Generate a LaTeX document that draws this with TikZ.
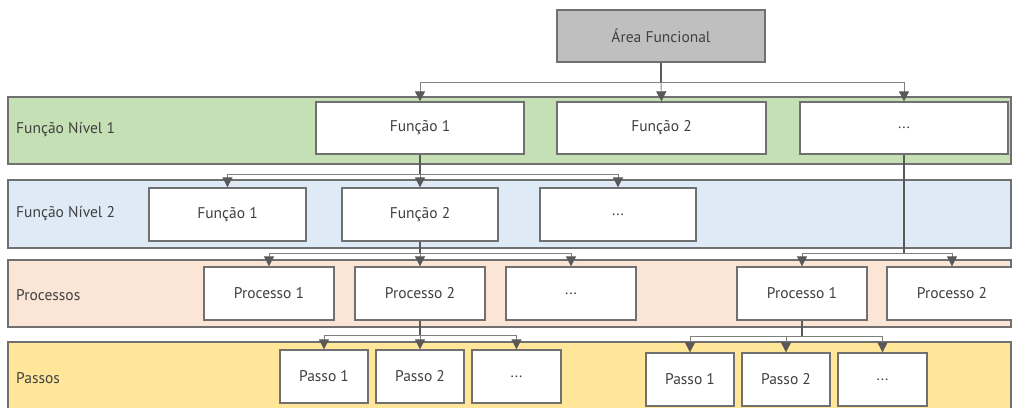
\documentclass[tikz,border=0pt]{standalone}
\usepackage{fontspec}
\setmainfont{PT Sans}
\usetikzlibrary{arrows.meta}
\definecolor{edgegray}{HTML}{707070}
\definecolor{linkgray}{HTML}{7F7F7F}
\definecolor{tipgray}{HTML}{595959}
\definecolor{textgray}{HTML}{404040}
\definecolor{bandgreen}{HTML}{C5E0B4}
\definecolor{bandblue}{HTML}{DEEAF6}
\definecolor{bandpeach}{HTML}{FBE5D6}
\definecolor{bandyellow}{HTML}{FFE699}
\definecolor{headgray}{HTML}{BFBFBF}
\tikzset{
  band/.style={draw=edgegray, line width=1.3pt, inner sep=0pt, minimum width=1003pt},
  bandlabel/.style={anchor=west, inner sep=0pt, text=textgray, font=\fontsize{15.5}{17}\selectfont},
  box/.style={draw=edgegray, fill=white, line width=1.3pt, inner sep=0pt,
    minimum height=52pt, text=textgray, font=\fontsize{15.5}{17}\selectfont},
  trunk/.style={draw=tipgray, line width=1.6pt},
  branch/.style={draw=linkgray, line width=0.9pt,
    -{Triangle[width=10pt,length=10pt,color=tipgray]}},
}
\begin{document}
\begin{tikzpicture}[x=1pt,y=-1pt]
\useasboundingbox (0,0) rectangle (1012,407);

% level bands
\node[band, fill=bandgreen,  minimum height=67pt] (b1) at (509.5,130.5) {};
\node[band, fill=bandblue,   minimum height=68pt] (b2) at (509.5,214) {};
\node[band, fill=bandpeach,  minimum height=67pt] (b3) at (509.5,293.5) {};
\node[band, fill=bandyellow, minimum height=80pt] (b4) at (509.5,382) {};

\node[bandlabel] (l1) at (16,130) {Função Nível 1};
\node[bandlabel] (l2) at (16,214) {Função Nível 2};
\node[bandlabel] (l3) at (16,295) {Processos};
\node[bandlabel] (l4) at (16,378) {Passos};

% top box
\node[box, fill=headgray, minimum width=208pt] (af) at (661,36) {Área Funcional};

% level 1 functions
\node[box, minimum width=208pt] (f1) at (420,128) {Função 1};
\node[box, minimum width=209pt] (f2) at (661.5,128) {Função 2};
\node[box, minimum width=208pt] (fx) at (904,128) {...};

% level 2 functions
\node[box, minimum width=157pt, minimum height=53pt] (g1) at (227.5,214.5) {Função 1};
\node[box, minimum width=156pt, minimum height=53pt] (g2) at (420,214.5) {Função 2};
\node[box, minimum width=156pt, minimum height=53pt] (g3) at (618,214.5) {...};

% processes
\node[box, minimum width=130pt, minimum height=53pt] (p1) at (269,293.5) {Processo 1};
\node[box, minimum width=130pt, minimum height=53pt] (p2) at (420,293.5) {Processo 2};
\node[box, minimum width=130pt, minimum height=53pt] (p3) at (571,293.5) {...};
\node[box, minimum width=130pt, minimum height=53pt] (q1) at (802,293.5) {Processo 1};
\node[box, minimum width=130pt, minimum height=53pt] (q2) at (952,293.5) {Processo 2};

% steps
\node[box, minimum width=88pt, minimum height=53pt] (s1) at (324,376.5) {Passo 1};
\node[box, minimum width=88pt, minimum height=53pt] (s2) at (420,376.5) {Passo 2};
\node[box, minimum width=89pt, minimum height=53pt] (s3) at (516.5,376.5) {...};
\node[box, minimum width=88pt, minimum height=53pt] (t1) at (690,379.5) {Passo 1};
\node[box, minimum width=88pt, minimum height=53pt] (t2) at (786,379.5) {Passo 2};
\node[box, minimum width=89pt, minimum height=53pt] (t3) at (882.5,379.5) {...};

% junction points
\coordinate (j0) at (661,82);
\coordinate (j1) at (420,174);
\coordinate (j2) at (420,253);
\coordinate (j3) at (904,253);
\coordinate (j4) at (420,335);
\coordinate (j5) at (802,336);

% connectors
\draw[branch] (j0) -| (f1.north);
\draw[branch] (j0) -| (fx.north);
\draw[branch] (j0) -- (f2.north);
\draw[trunk] (af.south) -- (j0);

\draw[branch] (j1) -| (g1.north);
\draw[branch] (j1) -| (g3.north);
\draw[branch] (j1) -- (g2.north);
\draw[trunk] (f1.south) -- (j1);

\draw[branch] (j2) -| (p1.north);
\draw[branch] (j2) -| (p3.north);
\draw[branch] (j2) -- (p2.north);
\draw[trunk] (g2.south) -- (j2);

\draw[branch] (j3) -| (q1.north);
\draw[branch] (j3) -| (q2.north);
\draw[trunk] (fx.south) -- (j3);

\draw[branch] (j4) -| (s1.north);
\draw[branch] (j4) -| (s3.north);
\draw[branch] (j4) -- (s2.north);
\draw[trunk] (p2.south) -- (j4);

\draw[branch] (j5) -| (t1.north);
\draw[branch] (j5) -| (t3.north);
\draw[branch] (j5) -| (t2.north);
\draw[trunk] (q1.south) -- (j5);
\end{tikzpicture}
\end{document}
